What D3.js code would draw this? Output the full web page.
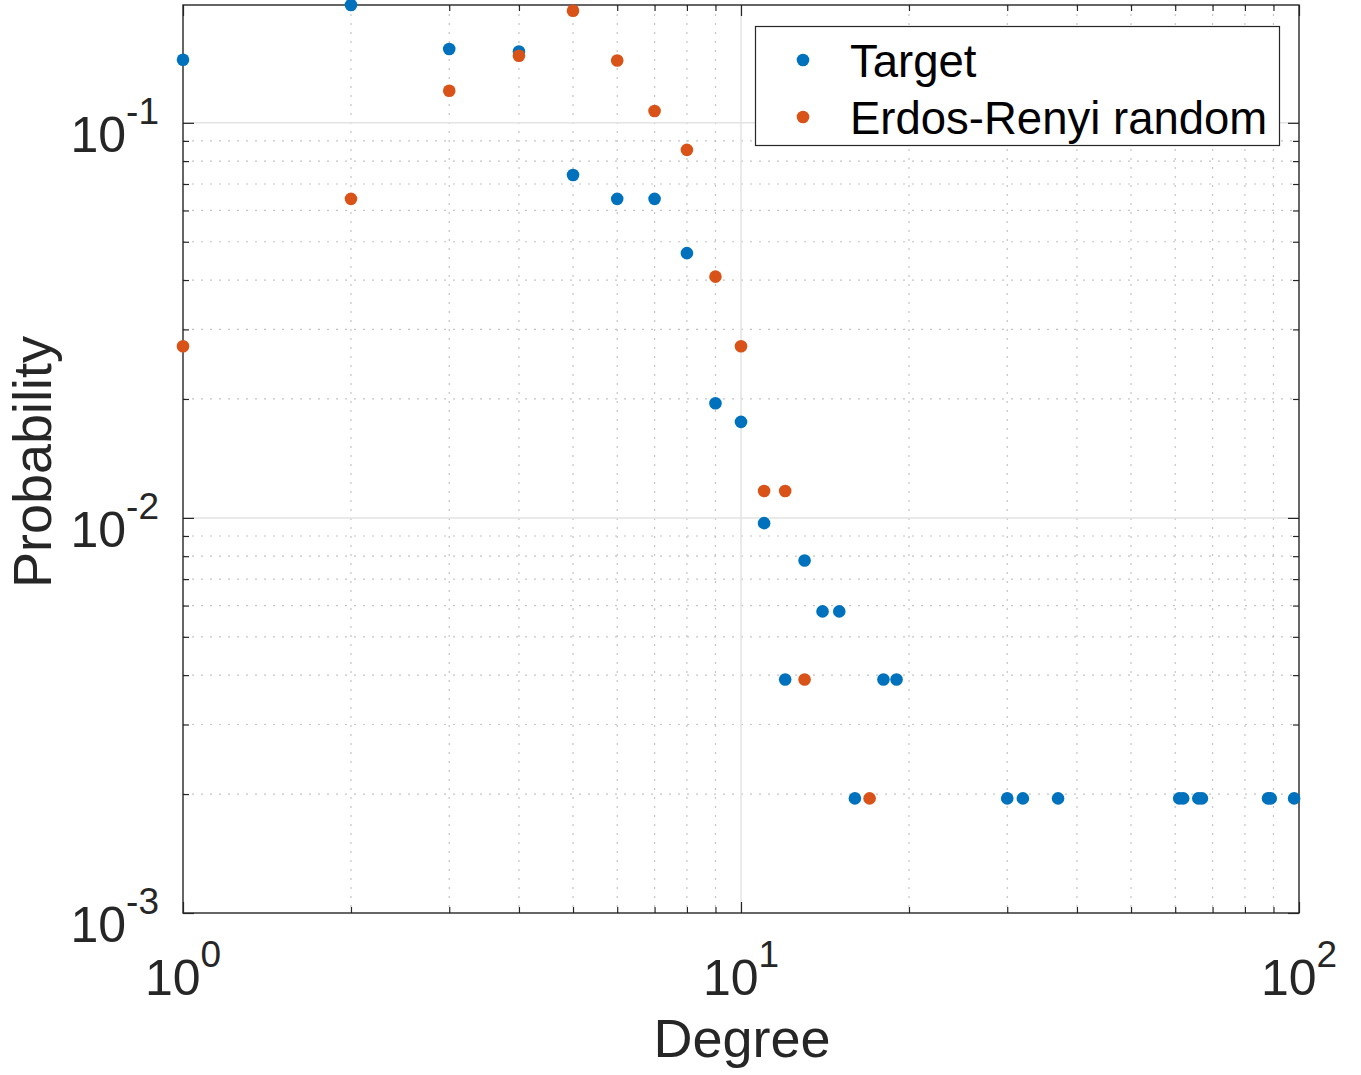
<!DOCTYPE html>
<html>
<head>
<meta charset="utf-8">
<script src="https://cdn.jsdelivr.net/npm/d3@7"></script>
<style>
  html, body { margin: 0; padding: 0; background: #fff; }
  svg { display: block; font-family: "Liberation Sans", Arial, Helvetica, sans-serif; }
</style>
</head>
<body>
<svg id="chart" width="1361" height="1075"></svg>
<script>
// ---- Data ----
const targetDegree = [1, 2, 3, 4, 5, 6, 7, 8, 9, 10, 11, 12, 13, 14, 15, 16, 18, 19, 30, 32, 37, 61, 62, 66, 67, 88, 89, 98];
const targetProb   = [0.1444, 0.1987, 0.1537, 0.1515, 0.0738, 0.0642, 0.0642, 0.0468, 0.0195, 0.0175, 0.0097, 0.0039, 0.0078, 0.0058, 0.0058, 0.00195, 0.0039, 0.0039,
                      0.00195, 0.00195, 0.00195, 0.00195, 0.00195, 0.00195, 0.00195, 0.00195, 0.00195, 0.00195];
const erDegree = [1, 2, 3, 4, 5, 6, 7, 8, 9, 10, 11, 12, 13, 17];
const erProb   = [0.0272, 0.0642, 0.1205, 0.1478, 0.1921, 0.1438, 0.1071, 0.0854, 0.0408, 0.0272, 0.0117, 0.0117, 0.0039, 0.00195];
const seriesNames = ["Target", "Erdos-Renyi random"];
const seriesColors = ["#0072BD", "#D95319"];
const xTickExps = [0, 1, 2];
const yTickExps = [-3, -2, -1];
const xLabel = "Degree";
const yLabel = "Probability";

// ---- Layout ----
const svg = d3.select("#chart");
const L = 183, R = 1299, T = 5, B = 913;
const axisColor = "#262626";

const x = d3.scaleLog().domain([1, 100]).range([L, R]);
const yMax = d3.max(targetProb.concat(erProb));
const y = d3.scaleLog().domain([1e-3, yMax]).range([B, T]);

// minor tick values
function minorVals(scale) {
  const [a, b] = scale.domain();
  const out = [];
  for (let e = Math.floor(Math.log10(a)); e <= Math.ceil(Math.log10(b)); e++) {
    for (let m = 2; m <= 9; m++) {
      const v = m * Math.pow(10, e);
      if (v > a * 1.0001 && v < b * 0.9999) out.push(v);
    }
  }
  return out;
}
const xMinor = minorVals(x);
const yMinor = minorVals(y);
const xMajor = xTickExps.map(e => Math.pow(10, e));
const yMajor = yTickExps.map(e => Math.pow(10, e));

// ---- Grid ----
const grid = svg.append("g");
grid.selectAll(".xminor").data(xMinor).enter().append("line")
  .attr("x1", d => x(d)).attr("x2", d => x(d)).attr("y1", T).attr("y2", B)
  .attr("stroke", "#c4c4c4").attr("stroke-width", 1.2).attr("stroke-dasharray", "2,7");
grid.selectAll(".yminor").data(yMinor).enter().append("line")
  .attr("y1", d => y(d)).attr("y2", d => y(d)).attr("x1", L).attr("x2", R)
  .attr("stroke", "#c4c4c4").attr("stroke-width", 1.2).attr("stroke-dasharray", "2,7");
grid.selectAll(".xmajor").data(xMajor.filter(d => d > 1 && d < 100)).enter().append("line")
  .attr("x1", d => x(d)).attr("x2", d => x(d)).attr("y1", T).attr("y2", B)
  .attr("stroke", "#e3e3e3").attr("stroke-width", 1.5);
grid.selectAll(".ymajor").data(yMajor.filter(d => d > 1e-3)).enter().append("line")
  .attr("y1", d => y(d)).attr("y2", d => y(d)).attr("x1", L).attr("x2", R)
  .attr("stroke", "#e3e3e3").attr("stroke-width", 1.5);

// ---- Axes (ticks inside) ----
const majorLen = 11, minorLen = 6;
const noFmt = () => "";
function styleAxis(g) {
  g.select(".domain").remove();
  g.selectAll(".tick line").attr("stroke", axisColor).attr("stroke-width", 1.2);
}
svg.append("g").attr("transform", `translate(0,${B})`)
  .call(d3.axisTop(x).tickValues(xMajor).tickSize(majorLen).tickFormat(noFmt)).call(styleAxis);
svg.append("g").attr("transform", `translate(0,${B})`)
  .call(d3.axisTop(x).tickValues(xMinor).tickSize(minorLen).tickFormat(noFmt)).call(styleAxis);
svg.append("g").attr("transform", `translate(0,${T})`)
  .call(d3.axisBottom(x).tickValues(xMajor).tickSize(majorLen).tickFormat(noFmt)).call(styleAxis);
svg.append("g").attr("transform", `translate(0,${T})`)
  .call(d3.axisBottom(x).tickValues(xMinor).tickSize(minorLen).tickFormat(noFmt)).call(styleAxis);
svg.append("g").attr("transform", `translate(${L},0)`)
  .call(d3.axisRight(y).tickValues(yMajor).tickSize(majorLen).tickFormat(noFmt)).call(styleAxis);
svg.append("g").attr("transform", `translate(${L},0)`)
  .call(d3.axisRight(y).tickValues(yMinor).tickSize(minorLen).tickFormat(noFmt)).call(styleAxis);
svg.append("g").attr("transform", `translate(${R},0)`)
  .call(d3.axisLeft(y).tickValues(yMajor).tickSize(majorLen).tickFormat(noFmt)).call(styleAxis);
svg.append("g").attr("transform", `translate(${R},0)`)
  .call(d3.axisLeft(y).tickValues(yMinor).tickSize(minorLen).tickFormat(noFmt)).call(styleAxis);

// box
svg.append("rect").attr("x", L).attr("y", T).attr("width", R - L).attr("height", B - T)
  .attr("fill", "none").attr("stroke", axisColor).attr("stroke-width", 1.4);

// ---- Tick labels ----
const tickFont = 50, supFont = 37;
const xt = svg.append("g");
xTickExps.forEach(e => {
  const t = xt.append("text").attr("x", x(Math.pow(10, e))).attr("y", 995)
    .attr("text-anchor", "middle").attr("fill", axisColor).attr("font-size", tickFont);
  t.append("tspan").text("10");
  t.append("tspan").attr("dy", -28).attr("font-size", supFont).text(String(e));
});
const yt = svg.append("g");
yTickExps.forEach(e => {
  const t = yt.append("text").attr("x", 159).attr("y", y(Math.pow(10, e)) + 29)
    .attr("text-anchor", "end").attr("fill", axisColor).attr("font-size", tickFont);
  t.append("tspan").text("10");
  t.append("tspan").attr("dy", -28).attr("font-size", supFont).text(String(e));
});

// ---- Axis labels ----
svg.append("text").attr("x", (L + R) / 2 + 1).attr("y", 1057).attr("text-anchor", "middle")
  .attr("fill", axisColor).attr("font-size", 54).text(xLabel);
svg.append("text").attr("transform", "translate(51,462) rotate(-90)").attr("text-anchor", "middle")
  .attr("fill", axisColor).attr("font-size", 54).text(yLabel);

// ---- Points ----
const pts = svg.append("g");
const series = [
  { deg: targetDegree, p: targetProb },
  { deg: erDegree, p: erProb }
];
series.forEach((s, i) => {
  pts.append("g").selectAll("circle").data(s.deg.map((d, k) => [d, s.p[k]])).enter().append("circle")
    .attr("cx", d => x(d[0])).attr("cy", d => y(d[1])).attr("r", 6.3)
    .attr("fill", seriesColors[i]);
});

// ---- Legend ----
const lg = svg.append("g");
lg.append("rect").attr("x", 755.5).attr("y", 26.5).attr("width", 524).attr("height", 119)
  .attr("fill", "#fff").attr("stroke", axisColor).attr("stroke-width", 1.2);
seriesNames.forEach((n, i) => {
  const cy = 60 + i * 57;
  lg.append("circle").attr("cx", 803).attr("cy", cy).attr("r", 6.3).attr("fill", seriesColors[i]);
  lg.append("text").attr("x", 850).attr("y", cy + 17).attr("font-size", 45.5).attr("fill", "#000").text(n);
});
</script>
</body>
</html>
